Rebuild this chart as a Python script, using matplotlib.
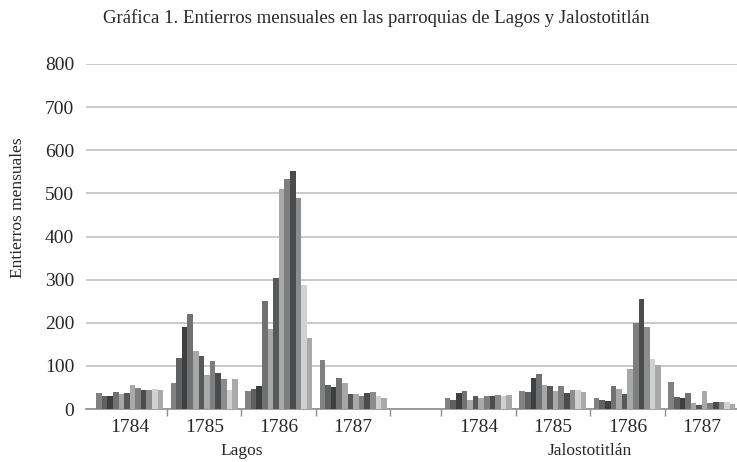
import matplotlib
matplotlib.use("Agg")
import matplotlib.pyplot as plt
import numpy as np

# monthly burials (Jan..Dec for each year)
years = ["1784", "1785", "1786", "1787"]
parishes = ["Lagos", "Jalostotitlán"]

lagos_1784 = [36, 29, 29, 40, 35, 36, 56, 49, 45, 43, 46, 45]
lagos_1785 = [60, 118, 191, 221, 135, 124, 80, 111, 84, 70, 45, 70]
lagos_1786 = [41, 46, 53, 251, 186, 303, 511, 534, 551, 490, 287, 164]
lagos_1787 = [114, 56, 51, 71, 61, 34, 35, 31, 38, 40, 31, 25]

jalos_1784 = [26, 22, 38, 42, 21, 30, 25, 30, 30, 32, 29, 32]
jalos_1785 = [42, 40, 71, 82, 56, 54, 42, 54, 38, 43, 43, 39]
jalos_1786 = [25, 21, 19, 54, 46, 35, 93, 200, 256, 189, 115, 103]
jalos_1787 = [62, 27, 25, 36, 13, 9, 41, 14, 17, 17, 17, 12]

month_colors = ["#808181", "#5f6061", "#3d3f41", "#707172", "#a6a7a7", "#56585a",
                "#a8a9a9", "#7c7e7f", "#4a4c4e", "#8b8c8d", "#d0d1d1", "#a8a9a9"]

INK = "#2a2627"
SERIF = ["Liberation Serif", "DejaVu Serif"]
plt.rcParams["font.family"] = SERIF

groups = [lagos_1784, lagos_1785, lagos_1786, lagos_1787,
          jalos_1784, jalos_1785, jalos_1786, jalos_1787]
GAP = 0.68            # blank stretch between the two parishes (in category units)
centers = np.array([i + (GAP if i >= 4 else 0) for i in range(len(groups))], dtype=float)
data = np.array(groups)  # shape (8, 12)

fig = plt.figure(figsize=(7.37, 4.62), dpi=100)
ax = fig.add_axes([86 / 737, 53 / 462, 1 - 86 / 737, 345 / 462])

cluster = 0.9
bw = cluster / 12
for m in range(12):
    xs = centers - cluster / 2 + bw * (m + 0.5)
    ax.bar(xs, data[:, m], width=bw, color=month_colors[m], linewidth=0, zorder=3)

ax.set_ylim(0, 800)
ax.set_xlim(-0.587, 8.151)
ax.set_yticks(range(0, 801, 100))
ax.yaxis.grid(True, color="#c9c9c9", linewidth=1.4, zorder=0)
ax.tick_params(axis="y", length=0, labelsize=14, labelcolor=INK, pad=8.5)
for s in ["top", "right", "left"]:
    ax.spines[s].set_visible(False)
ax.spines["bottom"].set_color("#8e8e8e")
ax.spines["bottom"].set_linewidth(1.2)

# year labels at category centres, boundary ticks between them
ax.set_xticks(centers)
ax.set_xticklabels(years * 2)
ax.tick_params(axis="x", which="major", length=0, labelsize=14, labelcolor=INK, pad=7)
bounds = [c + 0.5 for c in centers[:4]] + [c - 0.5 for c in centers[4:]]
ax.set_xticks(bounds, minor=True)
ax.tick_params(axis="x", which="minor", length=5, width=1, color="#8e8e8e")

for k, p in enumerate(parishes):
    mid = (centers[4 * k] + centers[4 * k + 3]) / 2
    ax.text(mid, -0.122, p, transform=ax.get_xaxis_transform(), ha="center", va="center",
            fontsize=12.5, color=INK)

fig.text(18 / 737, 1 - 208 / 462, "Entierros mensuales", rotation=90, ha="center", va="center",
         fontsize=12.5, color=INK)
fig.text(376 / 737, 1 - 18 / 462,
         "Gráfica 1. Entierros mensuales en las parroquias de Lagos y Jalostotitlán",
         ha="center", va="center", fontsize=13.5, color=INK)

fig.savefig("out.png", dpi=100, facecolor="white")
